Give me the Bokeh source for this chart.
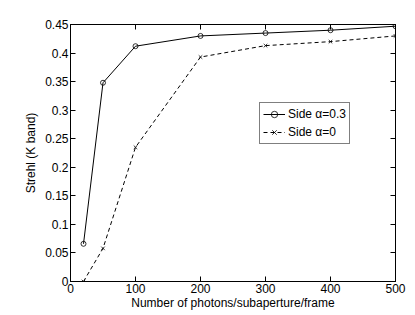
from bokeh.plotting import figure
from bokeh.models import LinearAxis, FixedTicker, Range1d, Legend, LegendItem
from bokeh.embed import file_html
from bokeh.resources import INLINE

photons = [20, 50, 100, 200, 300, 400, 500]
strehl_a03 = [0.066, 0.348, 0.412, 0.430, 0.435, 0.440, 0.447]
strehl_a0 = [0.000, 0.058, 0.235, 0.393, 0.413, 0.420, 0.430]
x_ticks = [0, 100, 200, 300, 400, 500]
y_ticks = [0, 0.05, 0.1, 0.15, 0.2, 0.25, 0.3, 0.35, 0.4, 0.45]
y_tick_labels = ["0", "0.05", "0.1", "0.15", "0.2", "0.25", "0.3", "0.35", "0.4", "0.45"]

FONT = "Liberation Sans"

p = figure(width=415, height=315, output_backend="svg", toolbar_location=None,
           x_range=Range1d(0, 500), y_range=Range1d(0, 0.45),
           min_border_left=70, min_border_right=20, min_border_top=24, min_border_bottom=34)
p.grid.visible = False
p.outline_line_color = "black"
p.outline_line_width = 1
p.background_fill_color = "white"
p.border_fill_color = "white"

def style_axis(ax, labels=True):
    ax.axis_line_color = "black"
    ax.axis_line_width = 1
    ax.major_tick_in = 5
    ax.major_tick_out = 0
    ax.minor_tick_line_color = None
    ax.major_tick_line_color = "black"
    ax.major_label_text_font = FONT
    ax.major_label_text_font_size = "12px"
    ax.major_label_text_color = "black" if labels else None
    ax.major_label_standoff = 2

p.xaxis.ticker = FixedTicker(ticks=x_ticks)
p.yaxis.ticker = FixedTicker(ticks=y_ticks)
p.yaxis.major_label_overrides = {t: l for t, l in zip(y_ticks, y_tick_labels)}
style_axis(p.xaxis[0])
style_axis(p.yaxis[0])
p.xaxis.axis_label = "Number of photons/subaperture/frame"
p.yaxis.axis_label = "Strehl (K band)"
for ax in (p.xaxis[0], p.yaxis[0]):
    ax.axis_label_text_font = FONT
    ax.axis_label_text_font_size = "12px"
    ax.axis_label_text_font_style = "normal"
    ax.axis_label_text_color = "black"
p.xaxis.axis_label_standoff = 0
p.yaxis.axis_label_standoff = 4

top = LinearAxis(ticker=FixedTicker(ticks=x_ticks))
style_axis(top, labels=False)
top.major_label_text_font_size = "0px"
top.major_label_standoff = 0
p.add_layout(top, "above")
right = LinearAxis(ticker=FixedTicker(ticks=y_ticks))
style_axis(right, labels=False)
right.major_label_text_font_size = "0px"
right.major_label_standoff = 0
p.add_layout(right, "right")

l1 = p.line(photons, strehl_a03, line_color="black", line_width=1)
m1 = p.scatter(photons, strehl_a03, marker="circle", size=5, fill_color=None,
               line_color="black", line_width=0.8)
l2 = p.line(photons, strehl_a0, line_color="black", line_width=1, line_dash="4 3")
m2 = p.scatter(photons, strehl_a0, marker="x", size=5, line_color="black", line_width=0.8)

legend = Legend(items=[LegendItem(label="Side \u03b1=0.3", renderers=[l1, m1]),
                       LegendItem(label="Side \u03b1=0", renderers=[l2, m2])],
                location=(189, 137))
legend.label_text_font = FONT
legend.label_text_font_size = "12px"
legend.label_text_color = "black"
legend.label_height = 16
legend.glyph_height = 16
legend.glyph_width = 22
legend.label_standoff = 3
legend.padding = 3
legend.spacing = 2
legend.margin = 0
legend.border_line_color = "black"
legend.border_line_width = 0.8
legend.background_fill_color = "white"
legend.background_fill_alpha = 1
p.add_layout(legend, "center")

open("out.html", "w").write(file_html(p, INLINE))
